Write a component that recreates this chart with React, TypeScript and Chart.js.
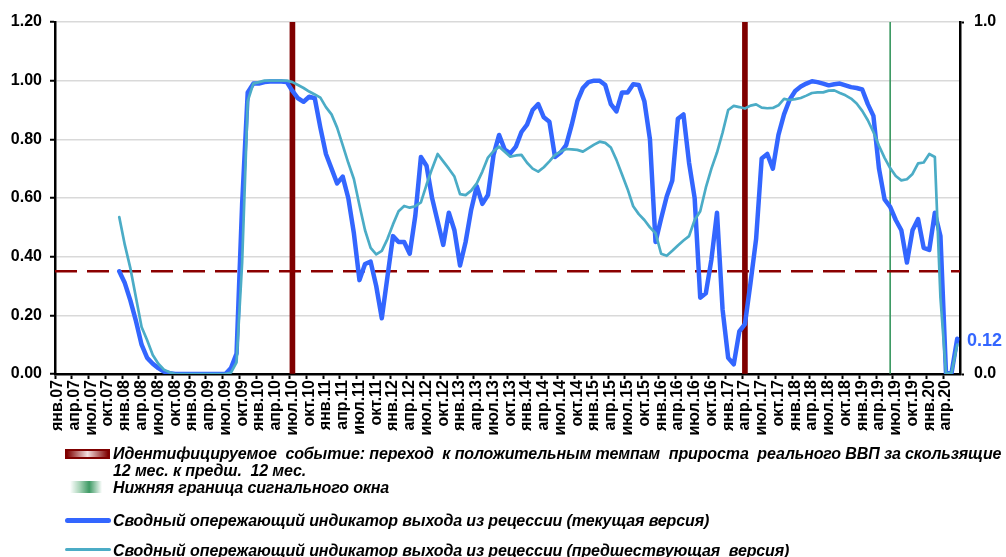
import React, { useEffect, useRef } from 'react';
import { Chart, registerables } from 'chart.js';

Chart.register(...registerables);

// ---- categories (monthly, янв.07 … июн.20) ----
const MONTHS = ['янв', 'фев', 'мар', 'апр', 'май', 'июн', 'июл', 'авг', 'сен', 'окт', 'ноя', 'дек'];
const FIRST_YEAR = 2007;
const MONTH_COUNT = 162;
const categories: string[] = Array.from({ length: MONTH_COUNT }, (_, i) =>
  `${MONTHS[i % 12]}.${String((FIRST_YEAR + Math.floor(i / 12)) % 100).padStart(2, '0')}`
);

// ---- events (columns on the secondary axis) ----
const eventMonths = ['июл.10', 'апр.17'];
const windowMonths = ['июн.19'];
const threshold = 0.35;

// ---- series (both start at дек.07) ----
const seriesStart = 'дек.07';
const currentVersion = [
  0.35, 0.31, 0.25, 0.18, 0.10, 0.055, 0.035, 0.02, 0.008, 0.003,
  0, 0, 0, 0, 0, 0, 0, 0, 0, 0,
  0.02, 0.07, 0.58, 0.96, 0.99, 0.99, 0.995, 0.997, 0.997, 0.997,
  0.995, 0.965, 0.94, 0.928, 0.945, 0.94, 0.84, 0.75, 0.70, 0.65,
  0.673, 0.60, 0.48, 0.32, 0.375, 0.383, 0.30, 0.19, 0.33, 0.47,
  0.45, 0.45, 0.41, 0.54, 0.74, 0.71, 0.60, 0.52, 0.44, 0.55,
  0.49, 0.37, 0.45, 0.56, 0.64, 0.58, 0.61, 0.747, 0.815, 0.765,
  0.752, 0.775, 0.825, 0.85, 0.90, 0.92, 0.875, 0.86, 0.74, 0.755,
  0.78, 0.85, 0.93, 0.975, 0.995, 1.0, 1.0, 0.985, 0.92, 0.895,
  0.96, 0.96, 0.988, 0.985, 0.93, 0.80, 0.45, 0.53, 0.605, 0.66,
  0.87, 0.885, 0.72, 0.60, 0.26, 0.275, 0.39, 0.55, 0.22, 0.055,
  0.033, 0.145, 0.17, 0.31, 0.46, 0.735, 0.75, 0.70, 0.815, 0.885,
  0.935, 0.965, 0.98, 0.99, 0.998, 0.995, 0.99, 0.984, 0.988, 0.99,
  0.984, 0.978, 0.975, 0.97, 0.92, 0.88, 0.70, 0.595, 0.57, 0.525,
  0.49, 0.38, 0.49, 0.528, 0.43, 0.423, 0.55, 0.47, 0.0, 0.005,
  0.12,
];
const previousVersion = [
  0.535, 0.44, 0.36, 0.26, 0.16, 0.115, 0.065, 0.035, 0.015, 0.006,
  0, 0, 0, 0, 0, 0, 0, 0, 0, 0,
  0.005, 0.04, 0.38, 0.93, 0.99, 0.995, 1.0, 1.0, 1.0, 1.0,
  1.0, 0.995, 0.985, 0.975, 0.963, 0.953, 0.942, 0.91, 0.885, 0.84,
  0.78, 0.72, 0.665, 0.575, 0.49, 0.43, 0.408, 0.42, 0.46, 0.51,
  0.555, 0.573, 0.567, 0.572, 0.585, 0.645, 0.70, 0.75, 0.725, 0.70,
  0.673, 0.613, 0.61, 0.625, 0.65, 0.69, 0.738, 0.76, 0.775, 0.758,
  0.741, 0.745, 0.747, 0.72, 0.70, 0.69, 0.705, 0.725, 0.747, 0.758,
  0.767, 0.766, 0.764, 0.758, 0.77, 0.782, 0.792, 0.788, 0.772, 0.73,
  0.68, 0.63, 0.572, 0.545, 0.525, 0.50, 0.48, 0.41, 0.403, 0.42,
  0.438, 0.455, 0.47, 0.525, 0.555, 0.635, 0.70, 0.755, 0.823, 0.90,
  0.914, 0.91, 0.905, 0.915, 0.919, 0.908, 0.906, 0.907, 0.916, 0.938,
  0.934, 0.937, 0.941, 0.949, 0.958, 0.96, 0.96, 0.966, 0.967, 0.958,
  0.95, 0.939, 0.922, 0.897, 0.865, 0.825, 0.778, 0.737, 0.702, 0.675,
  0.66, 0.664, 0.682, 0.718, 0.721, 0.75, 0.74, 0.26, 0.0, 0.005,
  0.10,
];

const yTicks = { min: 0, max: 1.2, step: 0.2 };
const y2Ticks = { min: 0, max: 1.0, step: 1.0 };

const legendTexts = {
  event1: 'Идентифицируемое  событие: переход  к положительным темпам  прироста  реального ВВП за скользящие',
  event2: '12 мес. к предш.  12 мес.',
  window: 'Нижняя граница сигнального окна',
  current: 'Сводный опережающий индикатор выхода из рецессии (текущая версия)',
  previous: 'Сводный опережающий индикатор выхода из рецессии (предшествующая  версия)',
};

const C_BLUE = '#3366ff';
const C_TEAL = '#4bacc6';
const C_RED = '#7f0000';
const C_DASH = '#8b0000';
const C_GREEN = '#3e9a64';
const FONT = "'Liberation Sans', Arial, sans-serif";

function pad(values: number[], startLabel: string): (number | null)[] {
  const s = categories.indexOf(startLabel);
  return categories.map((_, i) => {
    const k = i - s;
    return k >= 0 && k < values.length ? values[k] : null;
  });
}

const BLUE_INDEX = 2;

const overlayPlugin = {
  id: 'overlay',
  beforeDatasetDraw(chart: any, args: any) {
    if (args.index !== BLUE_INDEX) return;
    const { ctx, chartArea } = chart;
    const y = chart.scales.y.getPixelForValue(threshold);
    ctx.save();
    ctx.strokeStyle = C_DASH;
    ctx.lineWidth = 2.5;
    ctx.setLineDash([22, 10]);
    ctx.beginPath();
    ctx.moveTo(chartArea.left, y);
    ctx.lineTo(chartArea.right, y);
    ctx.stroke();
    ctx.restore();
  },
  afterDatasetsDraw(chart: any) {
    const { ctx, chartArea } = chart;
    const last = currentVersion[currentVersion.length - 1];
    const y = chart.scales.y.getPixelForValue(last);
    ctx.save();
    ctx.fillStyle = C_BLUE;
    ctx.font = `bold 18px ${FONT}`;
    ctx.textAlign = 'left';
    ctx.textBaseline = 'middle';
    ctx.fillText(last.toFixed(2), chartArea.right + 7, y + 2);
    ctx.restore();
  },
};

function ChartCanvas() {
  const ref = useRef<HTMLCanvasElement | null>(null);
  useEffect(() => {
    if (!ref.current) return;
    const chart = new Chart(ref.current, {
      type: 'line',
      data: {
        labels: categories,
        datasets: [
          {
            type: 'bar',
            label: 'event',
            data: categories.map((c) => (eventMonths.includes(c) ? 1 : null)),
            backgroundColor: C_RED,
            yAxisID: 'y2',
            barThickness: 5,
            grouped: false,
            order: 4,
          } as any,
          {
            type: 'bar',
            label: 'window',
            data: categories.map((c) => (windowMonths.includes(c) ? 1 : null)),
            backgroundColor: C_GREEN,
            yAxisID: 'y2',
            barThickness: 1,
            grouped: false,
            order: 3,
          } as any,
          {
            type: 'line',
            label: 'current',
            data: pad(currentVersion, seriesStart),
            borderColor: C_BLUE,
            borderWidth: 4.5,
            pointRadius: 0,
            tension: 0,
            borderJoinStyle: 'round',
            borderCapStyle: 'round',
            yAxisID: 'y',
            order: 2,
          },
          {
            type: 'line',
            label: 'previous',
            data: pad(previousVersion, seriesStart),
            borderColor: C_TEAL,
            borderWidth: 2.7,
            pointRadius: 0,
            tension: 0,
            borderJoinStyle: 'round',
            borderCapStyle: 'round',
            yAxisID: 'y',
            order: 1,
          },
        ],
      },
      options: {
        responsive: false,
        animation: false,
        devicePixelRatio: 1,
        layout: { padding: { top: 22, left: 0, right: 0, bottom: 0 } },
        plugins: { legend: { display: false }, tooltip: { enabled: false } },
        scales: {
          x: {
            type: 'category',
            offset: true,
            grid: {
              offset: true,
              drawOnChartArea: false,
              tickLength: 5,
              tickWidth: 2,
              tickColor: (ctx: any) => (ctx.index % 3 === 0 ? '#000' : 'rgba(0,0,0,0)'),
            },
            border: { color: '#000', width: 2.5 },
            ticks: {
              autoSkip: false,
              maxRotation: 90,
              minRotation: 90,
              padding: 1,
              color: '#000',
              font: { family: FONT, size: 16, weight: 'bold' },
              callback: (_v: any, i: number) => (i % 3 === 0 ? categories[i] : ''),
            },
            afterFit: (s: any) => {
              s.height = 557 - 374;
            },
          },
          y: {
            position: 'left',
            min: yTicks.min,
            max: yTicks.max,
            grid: { color: '#d9d9d9', lineWidth: 1.5, tickColor: '#000', tickLength: 5, tickWidth: 2 },
            border: { color: '#000', width: 2.5 },
            ticks: {
              stepSize: yTicks.step,
              padding: 8,
              color: '#000',
              font: { family: FONT, size: 16, weight: 'bold' },
              callback: (v: any) => Number(v).toFixed(2),
            },
            afterFit: (s: any) => {
              s.width = 55;
            },
          },
          y2: {
            position: 'right',
            min: y2Ticks.min,
            max: y2Ticks.max,
            grid: { drawOnChartArea: false, tickColor: '#000', tickLength: 4, tickWidth: 2 },
            border: { color: '#000', width: 2.5 },
            ticks: {
              stepSize: y2Ticks.step,
              padding: 10,
              color: '#000',
              font: { family: FONT, size: 16, weight: 'bold' },
              callback: (v: any) => Number(v).toFixed(1),
            },
            afterFit: (s: any) => {
              s.width = 1006 - 960;
            },
          },
        },
      } as any,
      plugins: [overlayPlugin],
    });
    return () => chart.destroy();
  }, []);
  return <canvas ref={ref} width={1006} height={557} style={{ display: 'block', width: 1006, height: 557 }} />;
}

const textStyle: React.CSSProperties = {
  position: 'absolute',
  left: 113,
  font: `italic bold 16px ${FONT}`,
  letterSpacing: '-0.12px',
  lineHeight: '17px',
  whiteSpace: 'pre',
  color: '#000',
};

export default function App() {
  return (
    <div style={{ position: 'fixed', left: 0, top: 0, width: 1006, height: 557, background: '#fff', overflow: 'hidden' }}>
      <ChartCanvas />
      <div style={{ position: 'absolute', left: 65, top: 449, width: 41, height: 6, border: `2px solid ${C_RED}`, background: `linear-gradient(90deg, ${C_RED} 0%, #f3dede 50%, ${C_RED} 100%)` }} />
      <div style={{ ...textStyle, top: 444.5 }}>{legendTexts.event1}</div>
      <div style={{ ...textStyle, top: 462 }}>{legendTexts.event2}</div>
      <div style={{ position: 'absolute', left: 70, top: 481, width: 32, height: 12, background: `linear-gradient(90deg, #ffffff 0%, #a8d4b8 30%, ${C_GREEN} 60%, #ffffff 100%)` }} />
      <div style={{ ...textStyle, top: 478.5 }}>{legendTexts.window}</div>
      <div style={{ position: 'absolute', left: 65, top: 517.5, width: 46, height: 5, borderRadius: 3, background: C_BLUE }} />
      <div style={{ ...textStyle, top: 511.5 }}>{legendTexts.current}</div>
      <div style={{ position: 'absolute', left: 65, top: 548, width: 46, height: 3, borderRadius: 2, background: C_TEAL }} />
      <div style={{ ...textStyle, top: 541.5 }}>{legendTexts.previous}</div>
    </div>
  );
}
